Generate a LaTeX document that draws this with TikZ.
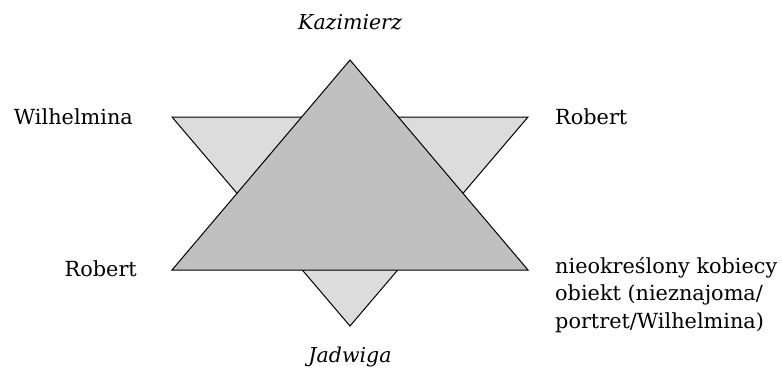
\documentclass[tikz,border=0pt]{standalone}
\usepackage{fontspec}
\setmainfont{DejaVu Serif}
\usepackage{tikz}
\usetikzlibrary{positioning}
\definecolor{lightfill}{HTML}{DCDCDC}
\definecolor{darkfill}{HTML}{C0C0C0}
\tikzset{
  tri/.style={draw=black, line width=1pt, line join=miter},
  person/.style={font=\fontsize{20.8}{27.5}\selectfont, inner sep=0pt, align=left},
  pole/.style={font=\fontsize{20.5}{25}\selectfont\itshape, inner sep=0pt}
}
\begin{document}
\begin{tikzpicture}[x=1pt, y=-1pt]
\useasboundingbox (0,0) rectangle (782,376);
% vertices
\coordinate (top) at (350,60);
\coordinate (upl) at (172,270);
\coordinate (upr) at (528,270);
\coordinate (dnl) at (172,117);
\coordinate (dnr) at (528,117);
\coordinate (bot) at (350,326);
% triangles
\draw[tri, fill=lightfill] (dnl) -- (dnr) -- (bot) -- cycle;
\draw[tri, fill=darkfill] (top) -- (upr) -- (upl) -- cycle;
% labels
\node[pole] (kaz) at (350,22) {Kazimierz};
\node[pole] (jad) at (350,357) {Jadwiga};
\node[person, anchor=east] (wil) at (133,117) {Wilhelmina};
\node[person, anchor=west] (rob1) at (555,117) {Robert};
\node[person, anchor=east] (rob2) at (137,269) {Robert};
\node[person, anchor=north west] (obj) at (555,257) {nieokreślony kobiecy\\obiekt (nieznajoma/\\portret/Wilhelmina)};
\end{tikzpicture}
\end{document}
